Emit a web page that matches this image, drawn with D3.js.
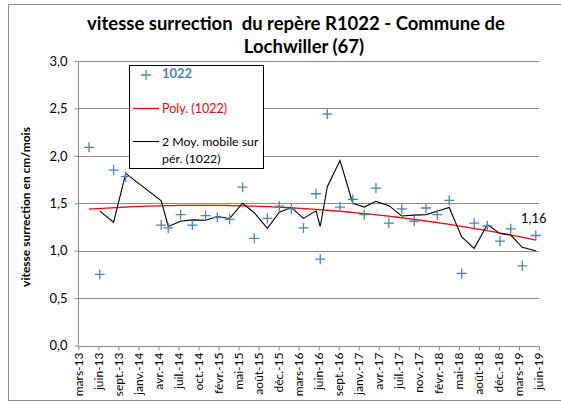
<!DOCTYPE html>
<html><head><meta charset="utf-8">
<script src="https://cdn.jsdelivr.net/npm/d3@7/dist/d3.min.js"></script>
<style>body{margin:0;background:#fff;} svg{display:block;font-family:Lato,"Liberation Sans",sans-serif;}</style>
</head><body>
<svg id="c" width="561" height="403"></svg>
<script>
// ---- data ----
const titleLines = ["vitesse surrection  du repère R1022 - Commune de", "Lochwiller (67)"];
const yTitle = "vitesse surrection en cm/mois";
const seriesName = "1022";
const dates = ["2013-04-23","2013-06-15","2013-08-23","2013-10-22","2014-04-16","2014-05-21","2014-07-21","2014-09-17","2014-11-22","2015-01-19","2015-03-21","2015-05-24","2015-07-21","2015-09-24","2015-11-22","2016-01-21","2016-03-21","2016-05-22","2016-06-12","2016-07-17","2016-09-18","2016-11-20","2017-01-16","2017-03-15","2017-05-18","2017-07-21","2017-09-21","2017-11-18","2018-01-13","2018-03-13","2018-05-14","2018-07-15","2018-09-18","2018-11-20","2019-01-12","2019-03-10","2019-05-16"];
const values = [2.09,0.75,1.85,1.78,1.27,1.24,1.38,1.27,1.37,1.35,1.33,1.67,1.13,1.34,1.47,1.44,1.24,1.60,0.91,2.44,1.46,1.54,1.38,1.66,1.29,1.44,1.31,1.45,1.38,1.53,0.76,1.29,1.26,1.10,1.23,0.84,1.16];
const xTickLabels = ["mars-13","juin-13","sept.-13","janv.-14","avr.-14","juil.-14","oct.-14","févr.-15","mai-15","août-15","déc.-15","mars-16","juin-16","sept.-16","janv.-17","avr.-17","juil.-17","nov.-17","févr.-18","mai-18","août-18","déc.-18","mars-19","juin-19"];
const xDomain = ["2013-03-01","2019-06-01"];
const yTicks = [0,0.5,1,1.5,2,2.5,3];
const lastLabel = "1,16";
const legendLabels = ["1022","Poly. (1022)","2 Moy. mobile sur","pér. (1022)"];

// ---- setup ----
const parse = d3.utcParse("%Y-%m-%d");
const pts = dates.map((d,i)=>({date:parse(d), v:values[i]}));
const svg = d3.select("#c");
const L=78.3, R=539, T=61, B=345.5;
const x = d3.scaleUtc().domain(xDomain.map(parse)).range([L,R]);
const y = d3.scaleLinear().domain([0,3]).range([B,T]);
const blue="#4F81BD", grid="#8c8c8c";

// outer border
svg.append("rect").attr("x",8.5).attr("y",4.5).attr("width",600).attr("height",396)
  .attr("fill","none").attr("stroke","#8c8c8c").attr("stroke-width",1);

// gridlines
svg.append("g").selectAll("line").data(yTicks.filter(t=>t>0)).join("line")
  .attr("x1",L).attr("x2",R).attr("y1",d=>Math.round(y(d))+0.5).attr("y2",d=>Math.round(y(d))+0.5)
  .attr("stroke",grid).attr("stroke-width",1);

// y axis
const ya = svg.append("g").attr("transform",`translate(${Math.round(L)+0.5},0)`)
  .call(d3.axisLeft(y).tickValues(yTicks).tickSize(4).tickPadding(7).tickFormat(d=>d3.format(".1f")(d).replace(".",",")));
ya.select(".domain").attr("stroke",grid).attr("d",`M0,${T}V${B}`);
ya.selectAll(".tick line").attr("stroke",grid);
ya.selectAll(".tick text").attr("font-size",13).attr("fill","#000").attr("font-family","Lato");

// x axis
const span = x.domain()[1]-x.domain()[0];
const tickDates = xTickLabels.map((l,i)=>new Date(+x.domain()[0] + i*span/(xTickLabels.length-1)));
const xa = svg.append("g").attr("transform",`translate(0,${Math.round(B)+0.5})`)
  .call(d3.axisBottom(x).tickValues(tickDates).tickSize(4).tickFormat((d,i)=>xTickLabels[i]));
xa.select(".domain").attr("stroke",grid).attr("d",`M${L},0H${R}`);
xa.selectAll(".tick line").attr("stroke",grid);
xa.selectAll(".tick text").attr("font-size",12).attr("fill","#000").attr("font-family","Lato")
  .attr("transform","rotate(-90)").attr("text-anchor","end").attr("dx","-6").attr("dy","0.32em").attr("y",0).attr("x",0);

// polynomial trend (order 2 least squares on days)
const t0 = +pts[0].date, day=864e5;
const xs = pts.map(p=>(+p.date - t0)/day/1000), ys = pts.map(p=>p.v);
function polyfit(xs,ys){
  const S=[0,0,0,0,0], Sy=[0,0,0];
  xs.forEach((xv,i)=>{for(let k=0;k<5;k++)S[k]+=Math.pow(xv,k); for(let k=0;k<3;k++)Sy[k]+=Math.pow(xv,k)*ys[i];});
  const A=[[S[0],S[1],S[2],Sy[0]],[S[1],S[2],S[3],Sy[1]],[S[2],S[3],S[4],Sy[2]]];
  for(let i=0;i<3;i++){for(let j=i+1;j<3;j++){const f=A[j][i]/A[i][i];for(let k=i;k<4;k++)A[j][k]-=f*A[i][k];}}
  const c=[0,0,0];
  for(let i=2;i>=0;i--){let s=A[i][3];for(let k=i+1;k<3;k++)s-=A[i][k]*c[k];c[i]=s/A[i][i];}
  return c;
}
const c = polyfit(xs,ys);
const tEnd = (+pts[pts.length-1].date - t0)/day/1000;
const trend = d3.range(0,101).map(i=>{const xv=tEnd*i/100;return {date:new Date(t0+xv*1000*day), v:c[0]+c[1]*xv+c[2]*xv*xv};});
svg.append("path").datum(trend).attr("fill","none").attr("stroke","#FF0000").attr("stroke-width",1.3)
  .attr("d",d3.line().x(d=>x(d.date)).y(d=>y(d.v)));

// moving average period 2
const ma = pts.slice(1).map((p,i)=>({date:p.date, v:(pts[i].v+p.v)/2}));
svg.append("path").datum(ma).attr("fill","none").attr("stroke","#000").attr("stroke-width",1.1)
  .attr("d",d3.line().x(d=>x(d.date)).y(d=>y(d.v)));

// markers
const plus = (sel,cx,cy)=>sel.append("path").attr("d",`M${cx-5},${cy}H${cx+5}M${cx},${cy-5}V${cy+5}`)
  .attr("stroke",blue).attr("stroke-width",1.3).attr("fill","none");
const mg = svg.append("g");
pts.forEach(p=>plus(mg,x(p.date),y(p.v)));

// last label
const lp = pts[pts.length-1];
svg.append("text").attr("x",x(lp.date)-2).attr("y",y(lp.v)-12).attr("text-anchor","middle")
  .attr("font-size",13).text(lastLabel);

// title
svg.append("g").selectAll("text").data(titleLines).join("text")
  .attr("x",(d,i)=>i===0?296:304).attr("y",(d,i)=>30+i*23).attr("text-anchor","middle")
  .attr("font-size",18.5).attr("font-weight","bold").attr("xml:space","preserve").style("white-space","pre").text(d=>d);

// y title
svg.append("text").attr("transform","translate(30,207) rotate(-90)").attr("text-anchor","middle")
  .attr("font-size",12).attr("font-weight","bold").text(yTitle);

// legend
const lg = svg.append("g");
lg.append("rect").attr("x",129.5).attr("y",65.5).attr("width",134).attr("height",103)
  .attr("fill","#fff").attr("stroke","#000").attr("stroke-width",1);
plus(lg,146,75);
lg.append("text").attr("x",162).attr("y",78).attr("font-size",13).attr("font-weight","bold").attr("fill",blue).text(legendLabels[0]);
lg.append("line").attr("x1",133).attr("x2",159).attr("y1",108.5).attr("y2",108.5).attr("stroke","#FF0000").attr("stroke-width",1.3);
lg.append("text").attr("x",162).attr("y",112.5).attr("font-size",12.5).attr("fill","#FF0000").text(legendLabels[1]);
lg.append("line").attr("x1",133).attr("x2",159).attr("y1",141.5).attr("y2",141.5).attr("stroke","#000").attr("stroke-width",1.1);
lg.append("text").attr("x",162).attr("y",146).attr("font-size",12.3).text(legendLabels[2]);
lg.append("text").attr("x",162).attr("y",162.5).attr("font-size",12.3).text(legendLabels[3]);
</script>
</body></html>
